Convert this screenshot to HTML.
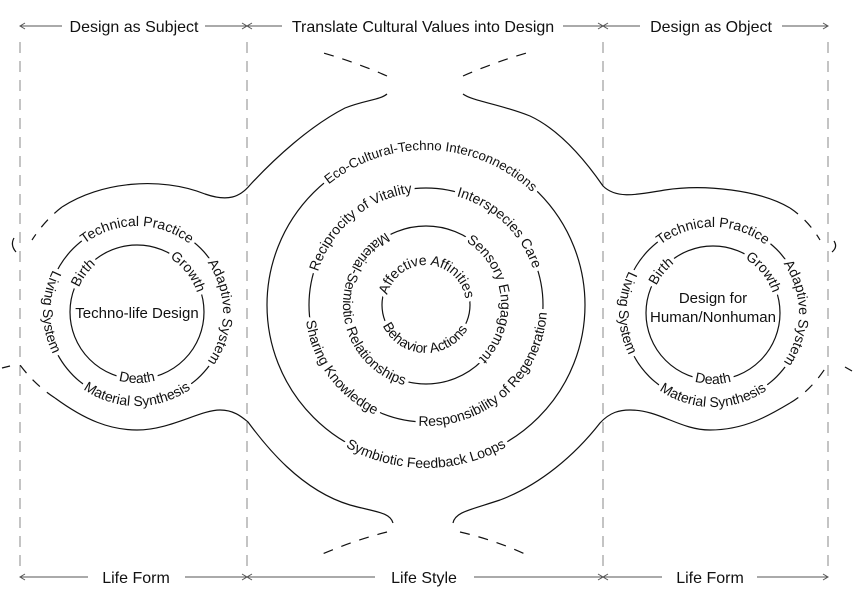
<!DOCTYPE html>
<html><head><meta charset="utf-8"><style>
html,body{margin:0;padding:0;background:#fff;}
svg{display:block;}
text{font-family:"Liberation Sans",Arial,sans-serif;fill:#111;}
.ring{font-size:14px;}
.eco{font-size:13.3px;}
.halo text{fill:#fff;stroke:#fff;stroke-width:8px;stroke-linejoin:round;}
</style></head><body>
<svg width="855" height="605" viewBox="0 0 855 605" xmlns="http://www.w3.org/2000/svg">
<defs>
<path id="Lcw86" d="M137,398 A86,86 0 1 1 137,226 A86,86 0 1 1 137,398"/>
<path id="Lccw94" d="M137,218 A94,94 0 1 0 137,406 A94,94 0 1 0 137,218"/>
<path id="Lcw63" d="M137,375 A63,63 0 1 1 137,249 A63,63 0 1 1 137,375"/>
<path id="Lccw71" d="M137,241 A71,71 0 1 0 137,383 A71,71 0 1 0 137,241"/>
<path id="Rcw86" d="M713,399 A86,86 0 1 1 713,227 A86,86 0 1 1 713,399"/>
<path id="Rccw94" d="M713,219 A94,94 0 1 0 713,407 A94,94 0 1 0 713,219"/>
<path id="Rcw63" d="M713,376 A63,63 0 1 1 713,250 A63,63 0 1 1 713,376"/>
<path id="Rccw71" d="M713,242 A71,71 0 1 0 713,384 A71,71 0 1 0 713,242"/>
<path id="Ccw155" d="M426,460 A155,155 0 1 1 426,150 A155,155 0 1 1 426,460"/>
<path id="Cccw163" d="M426,142 A163,163 0 1 0 426,468 A163,163 0 1 0 426,142"/>
<path id="Ccw113" d="M426,418 A113,113 0 1 1 426,192 A113,113 0 1 1 426,418"/>
<path id="Cccw121" d="M426,184 A121,121 0 1 0 426,426 A121,121 0 1 0 426,184"/>
<path id="Ccw75" d="M426,380 A75,75 0 1 1 426,230 A75,75 0 1 1 426,380"/>
<path id="Cccw83" d="M426,222 A83,83 0 1 0 426,388 A83,83 0 1 0 426,222"/>
<path id="Ccw40" d="M426,345 A40,40 0 1 1 426,265 A40,40 0 1 1 426,345"/>
<path id="Cccw48" d="M426,257 A48,48 0 1 0 426,353 A48,48 0 1 0 426,257"/>
</defs>

<g stroke="#8a8a8a" stroke-width="1" stroke-dasharray="11,8" fill="none">
<line x1="20" y1="42" x2="20" y2="572"/>
<line x1="247" y1="42" x2="247" y2="572"/>
<line x1="603" y1="42" x2="603" y2="572"/>
<line x1="828" y1="42" x2="828" y2="572"/>
</g>

<g stroke="#555" stroke-width="1" fill="none">
<line x1="20" y1="26" x2="62" y2="26"/><line x1="205" y1="26" x2="282" y2="26"/>
<line x1="563" y1="26" x2="640" y2="26"/><line x1="782" y1="26" x2="828" y2="26"/>
<polyline points="25,23 20,26 25,29"/>
<polyline points="242,23 247,26 242,29"/><polyline points="252,23 247,26 252,29"/>
<polyline points="598,23 603,26 598,29"/><polyline points="608,23 603,26 608,29"/>
<polyline points="823,23 828,26 823,29"/>
<line x1="20" y1="577" x2="88" y2="577"/><line x1="185" y1="577" x2="375" y2="577"/>
<line x1="474" y1="577" x2="662" y2="577"/><line x1="757" y1="577" x2="828" y2="577"/>
<polyline points="25,574 20,577 25,580"/>
<polyline points="242,574 247,577 242,580"/><polyline points="252,574 247,577 252,580"/>
<polyline points="598,574 603,577 598,580"/><polyline points="608,574 603,577 608,580"/>
<polyline points="823,574 828,577 823,580"/>
</g>
<g font-size="16" text-anchor="middle">
<text x="134" y="32">Design as Subject</text>
<text x="423" y="32">Translate Cultural Values into Design</text>
<text x="711" y="32">Design as Object</text>
<text x="136" y="583">Life Form</text>
<text x="424" y="583">Life Style</text>
<text x="710" y="583">Life Form</text>
</g>

<g stroke="#111" stroke-width="1.2" fill="none">
<path d="M62,207 C100,182 160,176 205,194 C228,202 240,197 250,185 C275,158 310,126 345,108 C365,100 380,100 387,94"/>
<path d="M463,94 C472,101 500,104 530,116 C560,130 585,160 603,186 C617,200 640,194 665,190 C705,184 760,190 790,208"/>
<path d="M55,398 C85,420 110,430 137,430 C170,430 200,410 220,410 C235,410 243,418 248,422 C265,445 300,490 350,505 C375,512 390,512 393,523"/>
<path d="M453,523 C455,512 470,510 500,500 C540,485 575,455 600,423 C610,412 620,410 630,410 C660,410 680,430 710,430 C745,430 770,415 790,403"/>
</g>
<g stroke="#111" stroke-width="1.2" fill="none" stroke-dasharray="10,9">
<path d="M62,207 Q45,220 32,240"/>
<path d="M790,208 Q808,220 820,240"/>
<path d="M55,398 Q35,385 20,365"/>
<path d="M790,403 Q812,390 828,364"/>
<path d="M387,76 Q355,62 320,52"/>
<path d="M463,76 Q495,62 530,52"/>
<path d="M387,532 Q355,540 320,555"/>
<path d="M460,532 Q495,540 527,555"/>
</g>
<g stroke="#111" stroke-width="1.2" fill="none">
<path d="M14,238 Q10,245 16,252"/>
<path d="M834,241 Q838,247 832,252"/>
<path d="M2,368 L10,366"/>
<path d="M845,367 L852,371"/>
</g>

<g stroke="#111" stroke-width="1.2" fill="none">
<circle cx="137" cy="312" r="90"/><circle cx="137" cy="312" r="67"/>
<circle cx="713" cy="313" r="90"/><circle cx="713" cy="313" r="67"/>
<circle cx="426" cy="305" r="159"/><circle cx="426" cy="305" r="117"/>
<circle cx="426" cy="305" r="79"/><circle cx="426" cy="305" r="44"/>
</g>

<g class="ring" text-anchor="middle">
<g class="halo">
<text><textPath href="#Lcw86" startOffset="50%">Technical Practice</textPath></text>
<text><textPath href="#Lcw86" startOffset="75%">Adaptive System</textPath></text>
<text><textPath href="#Lccw94" startOffset="50%">Material Synthesis</textPath></text>
<text><textPath href="#Lccw94" startOffset="25%">Living System</textPath></text>
<text><textPath href="#Lcw63" startOffset="35%">Birth</textPath></text>
<text><textPath href="#Lcw63" startOffset="64.4%">Growth</textPath></text>
<text><textPath href="#Lccw71" startOffset="50%">Death</textPath></text>
<text><textPath href="#Rcw86" startOffset="50%">Technical Practice</textPath></text>
<text><textPath href="#Rcw86" startOffset="75%">Adaptive System</textPath></text>
<text><textPath href="#Rccw94" startOffset="50%">Material Synthesis</textPath></text>
<text><textPath href="#Rccw94" startOffset="25%">Living System</textPath></text>
<text><textPath href="#Rcw63" startOffset="35.8%">Birth</textPath></text>
<text><textPath href="#Rcw63" startOffset="64.2%">Growth</textPath></text>
<text><textPath href="#Rccw71" startOffset="50%">Death</textPath></text>
<text class="eco"><textPath href="#Ccw155" startOffset="50.6%">Eco-Cultural-Techno Interconnections</textPath></text>
<text><textPath href="#Cccw163" startOffset="50%">Symbiotic Feedback Loops</textPath></text>
<text><textPath href="#Ccw113" startOffset="38.9%">Reciprocity of Vitality</textPath></text>
<text><textPath href="#Ccw113" startOffset="62.1%">Interspecies  Care</textPath></text>
<text><textPath href="#Cccw121" startOffset="61.5%">Responsibility of Regeneration</textPath></text>
<text><textPath href="#Cccw121" startOffset="35.1%">Sharing Knowledge</textPath></text>
<text><textPath href="#Cccw83" startOffset="26.9%">Material-Semiotic Relationships</textPath></text>
<text><textPath href="#Ccw75" startOffset="73.3%">Sensory Engagement</textPath></text>
<text><textPath href="#Ccw40" startOffset="50.8%">Affective Affinities</textPath></text>
<text><textPath href="#Cccw48" startOffset="49.4%">Behavior Actions</textPath></text>
</g>
<g>
<text><textPath href="#Lcw86" startOffset="50%">Technical Practice</textPath></text>
<text><textPath href="#Lcw86" startOffset="75%">Adaptive System</textPath></text>
<text><textPath href="#Lccw94" startOffset="50%">Material Synthesis</textPath></text>
<text><textPath href="#Lccw94" startOffset="25%">Living System</textPath></text>
<text><textPath href="#Lcw63" startOffset="35%">Birth</textPath></text>
<text><textPath href="#Lcw63" startOffset="64.4%">Growth</textPath></text>
<text><textPath href="#Lccw71" startOffset="50%">Death</textPath></text>
<text><textPath href="#Rcw86" startOffset="50%">Technical Practice</textPath></text>
<text><textPath href="#Rcw86" startOffset="75%">Adaptive System</textPath></text>
<text><textPath href="#Rccw94" startOffset="50%">Material Synthesis</textPath></text>
<text><textPath href="#Rccw94" startOffset="25%">Living System</textPath></text>
<text><textPath href="#Rcw63" startOffset="35.8%">Birth</textPath></text>
<text><textPath href="#Rcw63" startOffset="64.2%">Growth</textPath></text>
<text><textPath href="#Rccw71" startOffset="50%">Death</textPath></text>
<text class="eco"><textPath href="#Ccw155" startOffset="50.6%">Eco-Cultural-Techno Interconnections</textPath></text>
<text><textPath href="#Cccw163" startOffset="50%">Symbiotic Feedback Loops</textPath></text>
<text><textPath href="#Ccw113" startOffset="38.9%">Reciprocity of Vitality</textPath></text>
<text><textPath href="#Ccw113" startOffset="62.1%">Interspecies  Care</textPath></text>
<text><textPath href="#Cccw121" startOffset="61.5%">Responsibility of Regeneration</textPath></text>
<text><textPath href="#Cccw121" startOffset="35.1%">Sharing Knowledge</textPath></text>
<text><textPath href="#Cccw83" startOffset="26.9%">Material-Semiotic Relationships</textPath></text>
<text><textPath href="#Ccw75" startOffset="73.3%">Sensory Engagement</textPath></text>
<text><textPath href="#Ccw40" startOffset="50.8%">Affective Affinities</textPath></text>
<text><textPath href="#Cccw48" startOffset="49.4%">Behavior Actions</textPath></text>
</g>
</g>
<text x="137" y="318" font-size="15" text-anchor="middle">Techno-life Design</text>
<text x="713" y="303" font-size="15" text-anchor="middle">Design for</text>
<text x="713" y="322" font-size="15" text-anchor="middle">Human/Nonhuman</text>
</svg>
</body></html>
